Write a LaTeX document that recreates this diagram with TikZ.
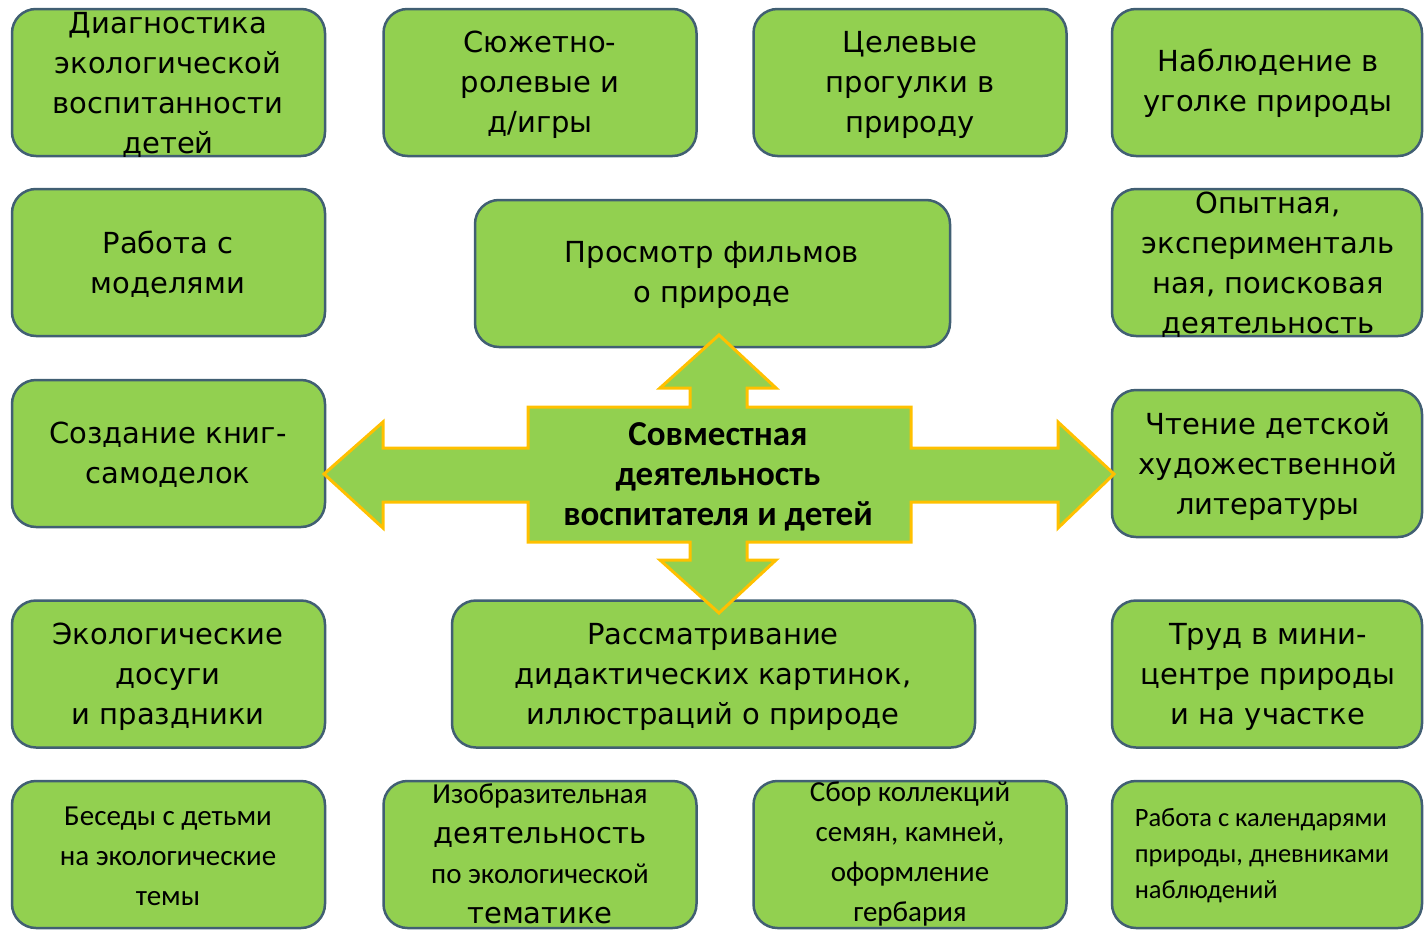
\documentclass[tikz,border=0pt]{standalone}
\usepackage{fontspec}
\setmainfont{DejaVu Sans}
\newfontfamily\narrowfont{Carlito}
\usepackage{tikz}
\usetikzlibrary{positioning}

\definecolor{leaf}{RGB}{146,208,80}
\definecolor{rim}{RGB}{65,95,115}
\definecolor{amber}{RGB}{255,192,0}

\tikzset{
  box/.style={draw=rim, line width=2.5pt, fill=leaf, rounded corners=24pt,
    minimum width=313pt, minimum height=147pt, inner sep=0pt},
  txt/.style={align=center, inner sep=0pt, font=\fontsize{29}{40}\selectfont},
  narrowtxt/.style={align=center, inner sep=0pt,
    font=\narrowfont\fontsize{29}{40}\selectfont},
}

\begin{document}
\begin{tikzpicture}[x=1pt,y=-1pt]
  \useasboundingbox (0,0) rectangle (1424,929);
  % Row 1
  \node[box] (diag) at (168.5,82.5) {};
  \node[box] (plays) at (540,82.5) {};
  \node[box] (walks) at (910,82.5) {};
  \node[box, minimum width=310pt] (corner) at (1267,82.5) {};
  % Row 2
  \node[box] (models) at (168.5,262.5) {};
  \node[box, minimum width=475pt] (films) at (712.5,273.5) {};
  \node[box, minimum width=310pt] (exper) at (1267,262.5) {};
  % Row 3
  \node[box] (books) at (168.5,453.5) {};
  \node[box, minimum width=310pt] (read) at (1267,463.5) {};
  % Row 4
  \node[box] (leisure) at (168.5,674) {};
  \node[box, minimum width=523pt] (pics) at (713.5,674) {};
  \node[box, minimum width=310pt] (labour) at (1267,674) {};
  % Row 5
  \node[box] (talks) at (168.5,854.5) {};
  \node[box] (art) at (540,854.5) {};
  \node[box] (coll) at (910,854.5) {};
  \node[box, minimum width=310pt] (cal) at (1267,854.5) {};

  % Cross in the middle
  \draw[amber, line width=3pt, fill=leaf, line join=miter]
    (324,474) -- (383,422) -- (383,448) -- (528,448) -- (528,407)
    -- (690,407) -- (690,388) -- (660,388) -- (719,335) -- (776,388)
    -- (747,388) -- (747,407) -- (911,407) -- (911,448) -- (1058,448)
    -- (1058,422) -- (1114,474) -- (1058,528) -- (1058,502) -- (911,502)
    -- (911,542) -- (747,542) -- (747,560) -- (776,560) -- (719,613)
    -- (660,560) -- (690,560) -- (690,542) -- (528,542) -- (528,502)
    -- (383,502) -- (383,528) -- cycle;
  \node[narrowtxt, font=\narrowfont\bfseries\fontsize{35}{40}\selectfont]
    (joint) at (718,477) {Совместная\\деятельность\\воспитателя и детей};

  % Texts
  \node[txt] (diag-t) at (168,85) {Диагностика\\экологической\\воспитанности\\детей};
  \node[txt] (plays-t) at (540,85) {Сюжетно-\\ролевые и\\д/игры};
  \node[txt] (walks-t) at (910,85) {Целевые\\прогулки в\\природу};
  \node[txt] (corner-t) at (1268,83) {Наблюдение в\\уголке природы};
  \node[txt] (models-t) at (168,264) {Работа с\\моделями};
  \node[txt] (films-t) at (712,275) {Просмотр фильмов\\о природе};
  \node[txt] (exper-t) at (1268,265) {Опытная,\\эксперименталь\\ная, поисковая\\деятельность};
  \node[txt] (books-t) at (168,455) {Создание книг-\\самоделок};
  \node[txt] (read-t) at (1268,466) {Чтение детской\\художественной\\литературы};
  \node[txt] (leisure-t) at (168,677) {Экологические\\досуги\\и праздники};
  \node[txt] (pics-t) at (713,677) {Рассматривание\\дидактических картинок,\\иллюстраций о природе};
  \node[txt] (labour-t) at (1268,677) {Труд в мини-\\центре природы\\и на участке};
  \node[narrowtxt] (talks-t) at (168,856) {Беседы с детьми\\на экологические\\темы};
  \node[txt] (art-t) at (540,854)
    {{\narrowfont Изобразительная}\\деятельность\\{\narrowfont по экологической}\\тематике};
  \node[narrowtxt] (coll-t) at (910,854) {Сбор коллекций\\семян, камней,\\оформление\\гербария};
  \node[narrowtxt, align=left, font=\narrowfont\fontsize{26.5}{36}\selectfont]
    (cal-t) at (1262,856) {Работа с календарями\\природы, дневниками\\наблюдений};
\end{tikzpicture}
\end{document}
